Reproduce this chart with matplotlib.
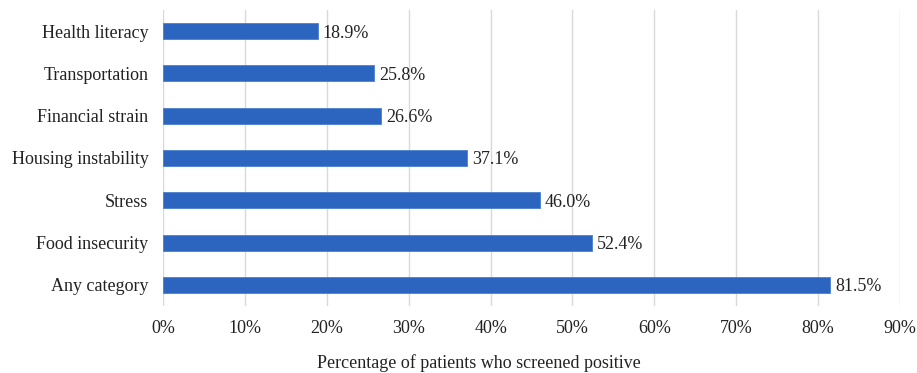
import matplotlib.pyplot as plt
from matplotlib.ticker import PercentFormatter

categories = ["Health literacy", "Transportation", "Financial strain", "Housing instability",
              "Stress", "Food insecurity", "Any category"]
values = [18.9, 25.8, 26.6, 37.1, 46.0, 52.4, 81.5]
xticks = [0, 10, 20, 30, 40, 50, 60, 70, 80, 90]

plt.rcParams['font.family'] = ['Liberation Serif', 'DejaVu Serif']
fs = 13

fig = plt.figure(figsize=(9.17, 3.73), dpi=100)
ax = fig.add_axes([0.1778, 0.1796, 0.8037, 0.794])

ypos = list(range(len(categories)))[::-1]
ax.barh(ypos, values, height=0.38, color='#2B65BF', edgecolor='#4A80D0', linewidth=0.6, zorder=3)
for y, v in zip(ypos, values):
    ax.text(v + 0.6, y, f"{v:.1f}%", va='center_baseline', ha='left', fontsize=fs, color='#222222')

ax.set_yticks(ypos)
ax.set_yticklabels(categories, fontsize=fs, color='#222222', va='center_baseline')
ax.set_ylim(-0.5, 6.5)
ax.set_xlim(0, 90)
ax.set_xticks(xticks)
ax.xaxis.set_major_formatter(PercentFormatter(decimals=0))
ax.tick_params(axis='x', labelsize=fs, colors='#222222', length=0, pad=10)
ax.tick_params(axis='y', length=0, pad=10.5)
ax.grid(axis='x', color='#D9D9D9', linewidth=1, zorder=0)
for s in ax.spines.values():
    s.set_visible(False)

fig.text(479 / 917, 1 - 361 / 373, "Percentage of patients who screened positive",
         ha='center', va='center_baseline', fontsize=fs, color='#222222')

fig.savefig("out.png", dpi=100)
